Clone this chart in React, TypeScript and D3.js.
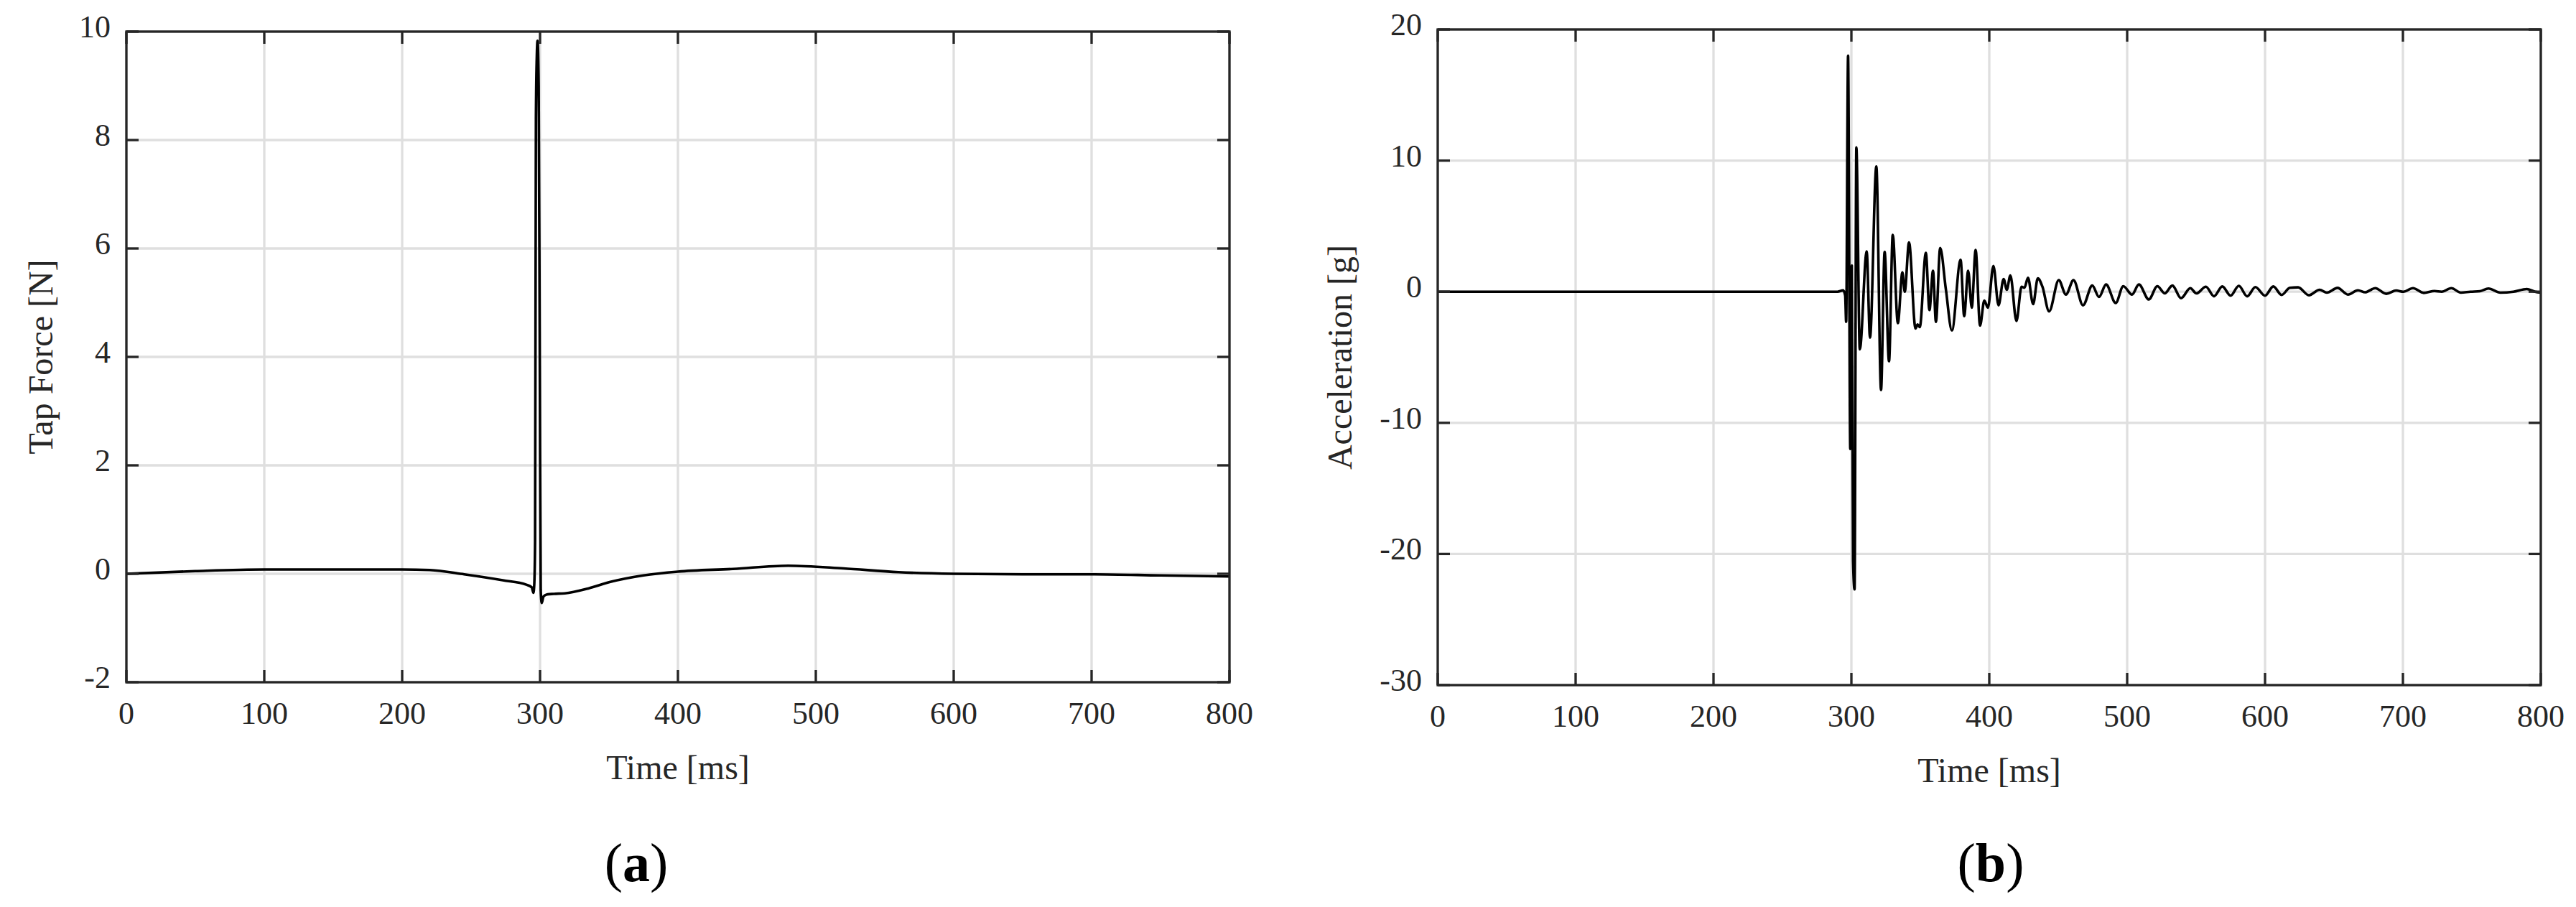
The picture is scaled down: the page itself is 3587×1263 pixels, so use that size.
import React from "react";
import * as d3 from "d3";

// ---------- data ----------
const forceTime = [0, 50, 100, 150, 200, 220, 245, 273, 290, 294, 295.2, 295.8, 296.4, 297.0, 297.6, 298.2, 299.0, 299.8, 300.5, 301.2, 302.5, 305, 310, 318, 335, 351, 375, 400, 440, 480, 520, 560, 600, 650, 700, 750, 800];
const forceValue = [0.0, 0.05, 0.08, 0.08, 0.08, 0.07, -0.01, -0.12, -0.2, -0.25, -0.35, -0.2, 0.6, 8.4, 9.5, 9.83, 9.0, 4.0, -0.3, -0.54, -0.42, -0.38, -0.37, -0.36, -0.27, -0.15, -0.03, 0.04, 0.09, 0.15, 0.1, 0.03, 0.0, -0.01, -0.01, -0.03, -0.05];

const accelTime = [0, 290, 294, 295.5, 296.2, 297.6, 299.2, 300.3, 301.2, 302.3, 303.6, 306.1, 311.1, 313.5, 318.1, 321.5, 324.1, 327.3, 330.0, 333.7, 337.0, 338.7, 341.8, 346.5, 348.0, 349.6, 354.0, 356.6, 359.2, 361.3, 364.4, 368.5, 372.9, 379.2, 381.8, 384.7, 387.3, 390.1, 393.3, 396.4, 399.0, 403.0, 406.7, 410.4, 412.7, 415.3, 419.7, 423.4, 425.5, 428.1, 431.8, 435.2, 438.5, 443.4, 450.4, 455.6, 461.1, 468.0, 474.7, 479.6, 484.7, 491.7, 497.2, 503.5, 508.5, 515.7, 521.9, 527.3, 532.8, 539.1, 545.8, 550.2, 557.1, 563, 569, 575, 581, 587, 593, 600, 606, 612, 618, 624.0, 631.8, 639.6, 644.8, 652.6, 660.1, 667.4, 672.6, 679.9, 687.9, 695.1, 700.3, 707.3, 715.1, 722.9, 728.1, 735.1, 742.0, 749, 755.9, 762, 770.7, 780.2, 789.8, 795.8, 800];
const accelValue = [0, 0, 0.1, -0.3, -2.3, 18.0, -12, 2, -20.5, -22.7, 11.0, -4.4, 3.07, -3.5, 9.55, -7.5, 3.03, -5.3, 4.34, -2.4, 1.48, 0.0, 3.76, -2.8, -2.5, -2.7, 2.97, -1.4, 1.6, -2.3, 3.34, 0.2, -2.96, 2.43, -1.86, 1.6, -1.22, 3.19, -2.59, -0.67, -1.22, 1.97, -1.04, 0.97, 0.15, 1.24, -2.23, 0.38, 0.3, 1.06, -0.95, 1.02, 0.4, -1.5, 0.88, -0.22, 0.88, -1.04, 0.47, -0.4, 0.55, -0.86, 0.42, -0.22, 0.55, -0.59, 0.42, -0.13, 0.47, -0.49, 0.27, -0.13, 0.38, -0.35, 0.4, -0.3, 0.45, -0.35, 0.35, -0.3, 0.4, -0.25, 0.3, 0.33, -0.27, 0.15, -0.07, 0.29, -0.22, 0.11, -0.04, 0.27, -0.16, 0.09, 0.0, 0.27, -0.09, 0.05, 0.0, 0.27, -0.07, 0.0, 0.04, 0.24, -0.07, 0.0, 0.2, 0.0, -0.07];

const xTicks = [0, 100, 200, 300, 400, 500, 600, 700, 800];
const forceTicks = [-2, 0, 2, 4, 6, 8, 10];
const accelTicks = [-30, -20, -10, 0, 10, 20];

// ---------- styles ----------
const FONT = "'Liberation Serif', 'DejaVu Serif', serif";
const TXT = "#262626";
const GRID = "#dfdfdf";

type PanelProps = {
  left: number; right: number; top: number; bottom: number;
  yDomain: [number, number]; yTicks: number[];
  times: number[]; values: number[];
  yTitle: string; yTitleX: number; label: string; labelX: number;
  curve: any;
};

function Panel(p: PanelProps) {
  const x = d3.scaleLinear().domain([0, 800]).range([p.left, p.right]);
  const y = d3.scaleLinear().domain(p.yDomain).range([p.bottom, p.top]);
  const pts = p.times.map((t, i) => [t, p.values[i]] as [number, number]);
  const line = d3.line<[number, number]>().x(d => x(d[0])).y(d => y(d[1])).curve(p.curve);
  const tl = 17;
  return (
    <g>
      {xTicks.map(t => (
        <line key={"gx" + t} x1={x(t)} x2={x(t)} y1={p.top} y2={p.bottom} stroke={GRID} strokeWidth={3.3} />
      ))}
      {p.yTicks.map(t => (
        <line key={"gy" + t} x1={p.left} x2={p.right} y1={y(t)} y2={y(t)} stroke={GRID} strokeWidth={3.3} />
      ))}
      <path d={line(pts) || ""} fill="none" stroke="#000" strokeWidth={3.6} strokeLinejoin="round" />
      {xTicks.map(t => (
        <g key={"tx" + t}>
          <line x1={x(t)} x2={x(t)} y1={p.bottom} y2={p.bottom - tl} stroke={TXT} strokeWidth={3.3} />
          <line x1={x(t)} x2={x(t)} y1={p.top} y2={p.top + tl} stroke={TXT} strokeWidth={3.3} />
          <text x={x(t)} y={p.bottom + 58} textAnchor="middle" fontFamily={FONT} fontSize={44} fill={TXT}>{t}</text>
        </g>
      ))}
      {p.yTicks.map(t => (
        <g key={"ty" + t}>
          <line x1={p.left} x2={p.left + tl} y1={y(t)} y2={y(t)} stroke={TXT} strokeWidth={3.3} />
          <line x1={p.right} x2={p.right - tl} y1={y(t)} y2={y(t)} stroke={TXT} strokeWidth={3.3} />
          <text x={p.left - 22} y={y(t) + 8} textAnchor="end" fontFamily={FONT} fontSize={44} fill={TXT}>{t}</text>
        </g>
      ))}
      <rect x={p.left} y={p.top} width={p.right - p.left} height={p.bottom - p.top} fill="none" stroke={TXT} strokeWidth={3.3} />
      <text x={(p.left + p.right) / 2} y={p.bottom + 135} textAnchor="middle" fontFamily={FONT} fontSize={48} fill={TXT}>Time [ms]</text>
      <text transform={`translate(${p.yTitleX},${(p.top + p.bottom) / 2}) rotate(-90)`} textAnchor="middle" fontFamily={FONT} fontSize={48} fill={TXT}>{p.yTitle}</text>
      <text x={p.labelX} y={1227} textAnchor="middle" fontFamily={FONT} fontSize={76} fill="#000">
        (<tspan fontWeight="bold">{p.label}</tspan>)
      </text>
    </g>
  );
}

export default function App() {
  return (
    <svg width={3587} height={1263} style={{ position: "absolute", left: 0, top: 0, background: "#fff" }}>
      <rect x={0} y={0} width={3587} height={1263} fill="#fff" />
      <Panel left={176} right={1712} top={44} bottom={950} yDomain={[-2, 10]} yTicks={forceTicks}
        times={forceTime} values={forceValue} yTitle="Tap Force [N]" yTitleX={73} label="a" labelX={886}
        curve={d3.curveMonotoneX} />
      <Panel left={2002} right={3538} top={41} bottom={954} yDomain={[-30, 20]} yTicks={accelTicks}
        times={accelTime} values={accelValue} yTitle="Acceleration [g]" yTitleX={1882} label="b" labelX={2772}
        curve={d3.curveMonotoneX} />
    </svg>
  );
}
